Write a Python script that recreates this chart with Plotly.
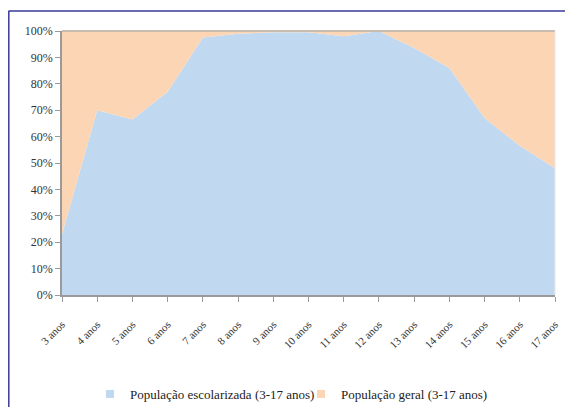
import plotly.graph_objects as go

categories = ["3 anos", "4 anos", "5 anos", "6 anos", "7 anos", "8 anos", "9 anos",
              "10 anos", "11 anos", "12 anos", "13 anos", "14 anos", "15 anos",
              "16 anos", "17 anos"]
escolarizada = [23, 70, 66.5, 77, 97.5, 99, 99.5, 99.5, 98, 100, 93.6, 86, 67, 56.5, 48]
geral_total = [100] * len(categories)
geral = [t - e for t, e in zip(geral_total, escolarizada)]
ytick_vals = [0, 10, 20, 30, 40, 50, 60, 70, 80, 90, 100]
ytick_text = [f"{v}%" for v in ytick_vals]
series_names = ["População escolarizada (3-17 anos)", "População geral (3-17 anos)"]
series_colors = ["#C0D9F1", "#FCD5B5"]

FONT = "Liberation Serif"

# the page body has an 8px margin, so figure coordinates = reference pixels - 8
OFF = 8
W, H = 573 - OFF, 407 - OFF
L, R, T, B = 62 - OFF, W - (555 - OFF), 31 - OFF, H - (295 - OFF)
pw, ph = W - L - R, H - T - B

def px(x):
    return (x - OFF - L) / pw

def py(y):
    return (H - B - (y - OFF)) / ph

fig = go.Figure()
for vals, name, col in zip([escolarizada, geral], series_names, series_colors):
    fig.add_trace(go.Scatter(
        x=categories, y=vals, stackgroup="one", mode="lines",
        line=dict(width=0, color=col), fillcolor=col,
        name=name, showlegend=False))
for i, (name, col) in enumerate(zip(series_names, series_colors)):
    fig.add_trace(go.Scatter(
        x=[None], y=[None], mode="markers",
        marker=dict(symbol="square", size=8, color=col),
        name=name, showlegend=True, legend="legend" if i == 0 else "legend2"))

legend_common = dict(orientation="h", yanchor="middle",
                     font=dict(family=FONT, size=13, color="#222222"),
                     itemwidth=30, bgcolor="rgba(0,0,0,0)")

fig.update_layout(
    width=W, height=H,
    margin=dict(l=L, r=R, t=T, b=B, autoexpand=False),
    paper_bgcolor="white", plot_bgcolor="white",
    font=dict(family=FONT, size=11, color="#333333"),
    showlegend=True,
    legend=dict(x=px(90), y=py(394), xanchor="left", **legend_common),
    legend2=dict(x=px(301), y=py(394), xanchor="left", **legend_common),
    xaxis=dict(type="category", range=[0, 14], tickangle=-45, automargin=False,
               showline=True, linecolor="#9A9A9A", linewidth=1.5,
               ticks="outside", ticklen=5, tickcolor="#9A9A9A",
               ticklabelstandoff=12,
               showgrid=False, zeroline=False,
               tickfont=dict(family=FONT, size=11, color="#333333")),
    yaxis=dict(range=[0, 100], tickvals=ytick_vals, ticktext=ytick_text, automargin=False,
               showline=True, linecolor="#9A9A9A", linewidth=1.5,
               ticks="outside", ticklen=5, tickcolor="#9A9A9A",
               showgrid=False, zeroline=False,
               tickfont=dict(family=FONT, size=12, color="#333333")),
    shapes=[
        dict(type="line", xref="paper", yref="paper", x0=px(8.5), x1=px(580), y0=py(11), y1=py(11),
             line=dict(color="#3A3A98", width=1.5)),
        dict(type="line", xref="paper", yref="paper", x0=px(8.8), x1=px(8.8), y0=py(11), y1=py(420),
             line=dict(color="#3A3A98", width=1.5)),
        dict(type="line", xref="paper", yref="paper", x0=0, x1=1, y0=1, y1=1,
             line=dict(color="#C8BCB0", width=2)),
        dict(type="line", xref="paper", yref="paper", x0=1, x1=1, y0=0, y1=1,
             line=dict(color="#E8E8E8", width=1)),
    ],
)

fig.write_html("out.html")
